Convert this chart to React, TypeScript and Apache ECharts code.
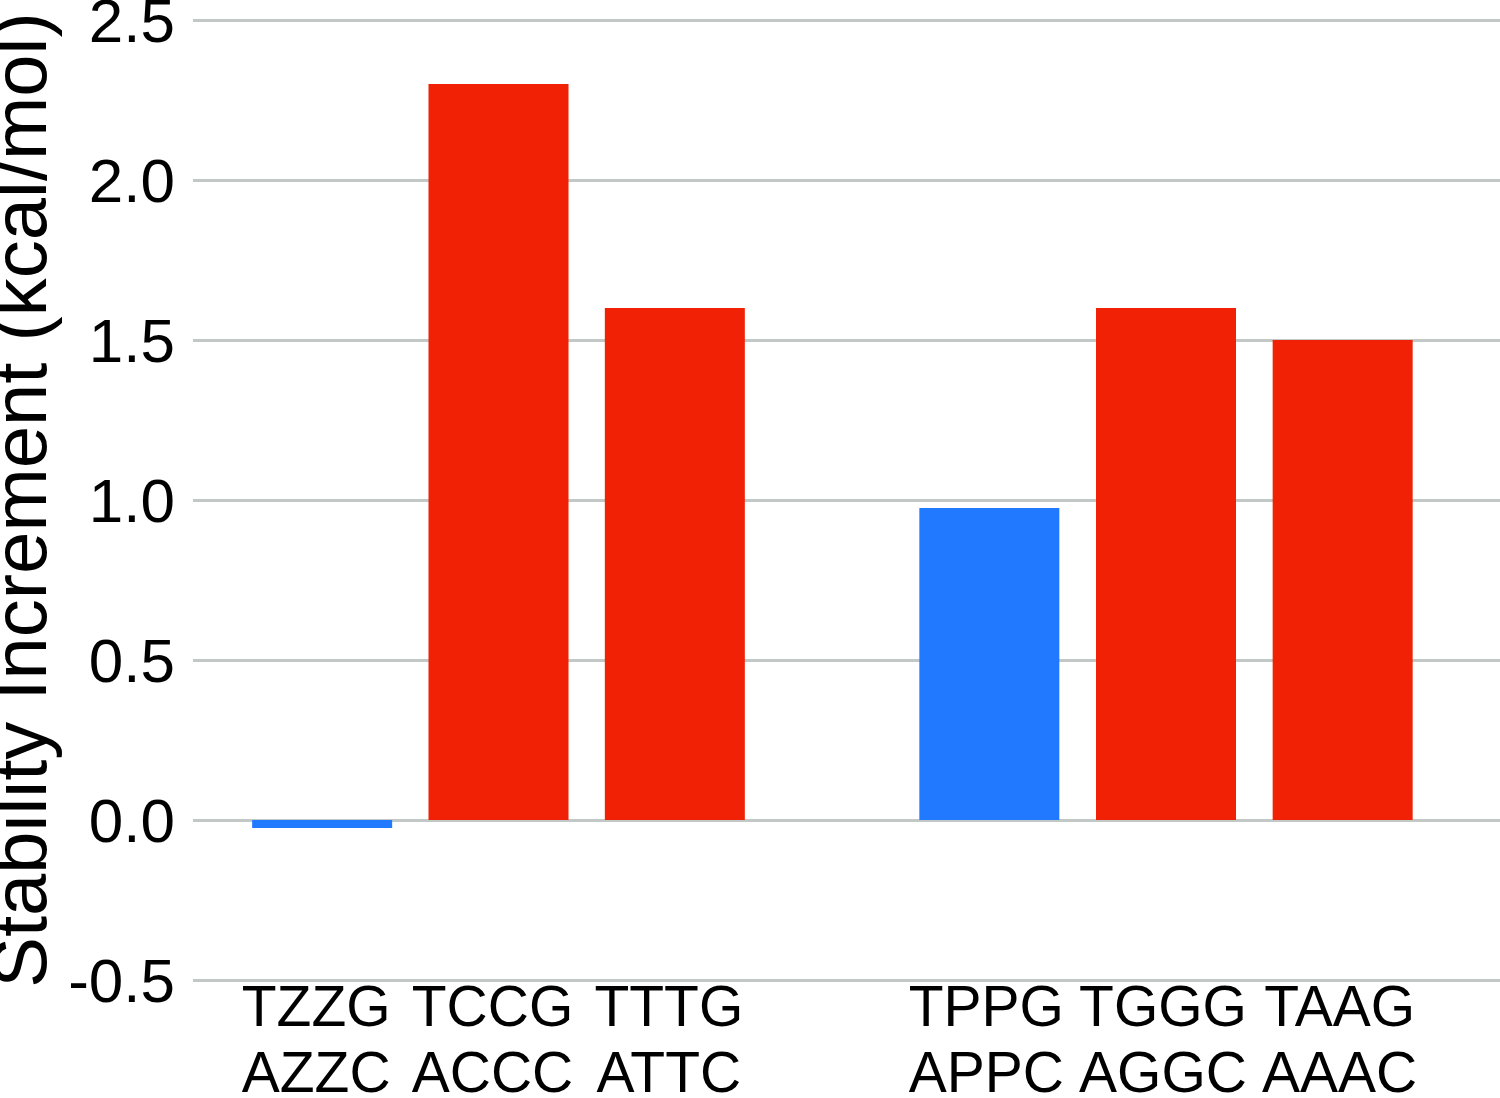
import React, { useEffect, useRef } from "react";
import * as echarts from "echarts";

const leftCategories = ["TZZG\nAZZC", "TCCG\nACCC", "TTTG\nATTC"];
const leftValues = [-0.025, 2.3, 1.6];
const rightCategories = ["TPPG\nAPPC", "TGGG\nAGGC", "TAAG\nAAAC"];
const rightValues = [0.975, 1.6, 1.5];
const blueCategories = ["TZZG\nAZZC", "TPPG\nAPPC"];
const yMin = -0.5;
const yMax = 2.5;
const yInterval = 0.5;
const yTitle = "Stability Increment (kcal/mol)";

const FONT = "'Liberation Sans', Arial, Helvetica, sans-serif";
const RED = "#F02105";
const BLUE = "#2079FF";
const GRIDLINE = "#C2C8C6";

export default function App() {
  const ref = useRef<HTMLDivElement>(null);
  useEffect(() => {
    document.body.style.margin = "0";
    if (!ref.current) return;
    const chart = echarts.init(ref.current, null, { renderer: "svg" });
    const colorFor = (c: string) => (blueCategories.includes(c) ? BLUE : RED);
    const hiddenY = (gridIndex: number) => ({
      type: "value" as const,
      gridIndex,
      min: yMin,
      max: yMax,
      interval: yInterval,
      show: false,
      splitLine: { show: false },
    });
    const catX = (gridIndex: number, data: string[], shift: number) => ({
      type: "category" as const,
      gridIndex,
      data,
      boundaryGap: true,
      axisLine: { show: false },
      axisTick: { show: false },
      axisLabel: {
        interval: 0,
        fontSize: 57,
        lineHeight: 66,
        color: "#000",
        fontFamily: FONT,
        margin: -7,
        padding: [0, shift, 0, 0],
      },
    });
    const gridBase = { top: 20, bottom: 118, containLabel: false, outerBoundsMode: "none" };
    chart.setOption({
      animation: false,
      backgroundColor: "#fff",
      grid: [
        { ...gridBase, left: 193, right: 0 },
        { ...gridBase, left: 234, width: 529 },
        { ...gridBase, left: 901, width: 530 },
      ],
      xAxis: [
        { type: "value", gridIndex: 0, show: false, min: 0, max: 1 },
        catX(1, leftCategories, 12),
        catX(2, rightCategories, 6),
      ],
      yAxis: [
        {
          type: "value",
          gridIndex: 0,
          min: yMin,
          max: yMax,
          interval: yInterval,
          axisLine: { show: false },
          axisTick: { show: false },
          axisLabel: {
            fontSize: 62,
            color: "#000",
            fontFamily: FONT,
            margin: 18,
            formatter: (v: number) => v.toFixed(1),
          },
          splitLine: { show: true, lineStyle: { color: GRIDLINE, width: 3 } },
          name: yTitle,
          nameLocation: "middle",
          nameGap: 116,
          nameTextStyle: { fontSize: 76, color: "#000", fontFamily: FONT },
        },
        hiddenY(1),
        hiddenY(2),
      ],
      series: [
        {
          type: "bar",
          xAxisIndex: 1,
          yAxisIndex: 1,
          barWidth: 140,
          data: leftValues.map((v, i) => ({
            value: v,
            itemStyle: { color: colorFor(leftCategories[i]) },
          })),
        },
        {
          type: "bar",
          xAxisIndex: 2,
          yAxisIndex: 2,
          barWidth: 140,
          data: rightValues.map((v, i) => ({
            value: v,
            itemStyle: { color: colorFor(rightCategories[i]) },
          })),
        },
      ],
    });
    return () => chart.dispose();
  }, []);
  return <div ref={ref} style={{ width: 1500, height: 1098 }} />;
}
